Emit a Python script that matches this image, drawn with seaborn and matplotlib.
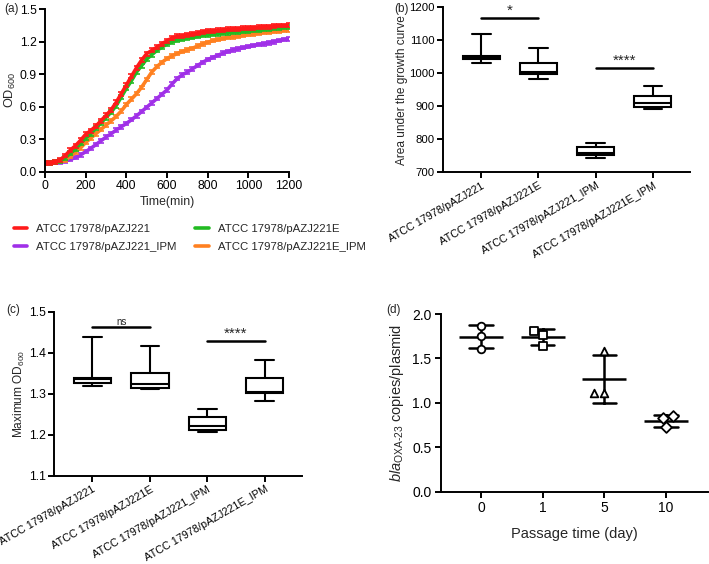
import numpy as np
import pandas as pd
import matplotlib
matplotlib.use("Agg")
import matplotlib.pyplot as plt
import seaborn as sns

# ---- panel (a): growth curves, OD600 read every 25 min ----
time_min = list(range(0, 1201, 25))
od_pazj221 = [0.080, 0.082, 0.090, 0.110, 0.150, 0.200, 0.240, 0.290, 0.345, 0.380,
              0.420, 0.470, 0.520, 0.570, 0.640, 0.720, 0.800, 0.880, 0.960, 1.030,
              1.090, 1.120, 1.150, 1.180, 1.210, 1.235, 1.250, 1.255, 1.265, 1.270,
              1.280, 1.290, 1.300, 1.300, 1.305, 1.310, 1.315, 1.320, 1.320, 1.325,
              1.330, 1.330, 1.335, 1.340, 1.340, 1.345, 1.350, 1.350, 1.355]
od_pazj221e = [0.080, 0.081, 0.087, 0.100, 0.130, 0.170, 0.210, 0.260, 0.310, 0.350,
               0.400, 0.450, 0.500, 0.550, 0.610, 0.690, 0.770, 0.840, 0.920, 0.980,
               1.040, 1.080, 1.120, 1.150, 1.180, 1.200, 1.215, 1.225, 1.235, 1.240,
               1.250, 1.260, 1.265, 1.270, 1.275, 1.280, 1.285, 1.290, 1.290, 1.295,
               1.300, 1.305, 1.310, 1.315, 1.320, 1.325, 1.330, 1.335, 1.340]
od_pazj221_ipm = [0.080, 0.080, 0.083, 0.090, 0.100, 0.115, 0.130, 0.155, 0.185, 0.215,
                  0.250, 0.285, 0.320, 0.350, 0.385, 0.415, 0.445, 0.480, 0.515, 0.555,
                  0.595, 0.635, 0.675, 0.715, 0.755, 0.810, 0.860, 0.895, 0.920, 0.950,
                  0.980, 1.010, 1.035, 1.055, 1.075, 1.095, 1.110, 1.125, 1.135, 1.145,
                  1.155, 1.165, 1.175, 1.180, 1.190, 1.200, 1.210, 1.220, 1.225]
od_pazj221e_ipm = [0.080, 0.080, 0.085, 0.095, 0.110, 0.140, 0.180, 0.220, 0.270, 0.310,
                   0.350, 0.390, 0.430, 0.470, 0.510, 0.560, 0.620, 0.670, 0.720, 0.780,
                   0.850, 0.920, 0.970, 1.010, 1.045, 1.070, 1.090, 1.110, 1.125, 1.140,
                   1.160, 1.180, 1.195, 1.210, 1.220, 1.230, 1.240, 1.245, 1.250, 1.260,
                   1.265, 1.270, 1.280, 1.285, 1.290, 1.295, 1.300, 1.305, 1.310]
od_sd = [0.018, 0.018, 0.016, 0.016]  # approx error bar half-height per strain

strains = ["ATCC 17978/pAZJ221", "ATCC 17978/pAZJ221E",
           "ATCC 17978/pAZJ221_IPM", "ATCC 17978/pAZJ221E_IPM"]
strain_colors = ["#ff1a1a", "#22bb22", "#a030e8", "#ff8020"]

# ---- panel (b): area under the growth curve (min, q1, median, q3, max) ----
auc_pazj221 = [1030, 1042, 1045, 1052, 1119]
auc_pazj221e = [983, 998, 1003, 1030, 1076]
auc_pazj221_ipm = [744, 752, 760, 778, 788]
auc_pazj221e_ipm = [893, 899, 909, 931, 961]
sig_b = [(0, 1, 1169, "*"), (2, 3, 1017, "****")]

# ---- panel (c): maximum OD600 (min, q1, median, q3, max) ----
maxod_pazj221 = [1.320, 1.327, 1.335, 1.338, 1.439]
maxod_pazj221e = [1.311, 1.314, 1.324, 1.350, 1.417]
maxod_pazj221_ipm = [1.207, 1.211, 1.222, 1.243, 1.262]
maxod_pazj221e_ipm = [1.281, 1.301, 1.305, 1.339, 1.381]
sig_c = [(0, 1, 1.463, "ns"), (2, 3, 1.428, "****")]

# ---- panel (d): blaOXA-23 copies per plasmid ----
passage_days = ["0", "1", "5", "10"]
copies_day0 = [1.869, 1.756, 1.606]
copies_day1 = [1.640, 1.764, 1.812]
copies_day5 = [1.114, 1.583, 1.114]
copies_day10 = [0.724, 0.826, 0.852]
day_markers = ["o", "s", "^", "D"]

sns.set_style("ticks")
plt.rcParams["font.family"] = ["Liberation Sans", "DejaVu Sans"]
plt.rcParams["mathtext.fontset"] = "custom"
plt.rcParams["mathtext.rm"] = "Liberation Sans"
plt.rcParams["mathtext.it"] = "Liberation Sans:italic"
plt.rcParams["axes.linewidth"] = 1.4
plt.rcParams["xtick.major.width"] = 1.4
plt.rcParams["ytick.major.width"] = 1.4
plt.rcParams["xtick.major.size"] = 4
plt.rcParams["ytick.major.size"] = 4
plt.rcParams["xtick.color"] = "black"
plt.rcParams["ytick.color"] = "black"
plt.rcParams["axes.edgecolor"] = "black"

W, H = 709, 564
fig = plt.figure(figsize=(W / 100, H / 100), dpi=100)


def px_axes(left, top, right, bottom):
    return fig.add_axes([left / W, 1 - bottom / H, (right - left) / W, (bottom - top) / H])


# ---------- (a) ----------
ax_a = px_axes(45, 9.3, 289, 171.7)
curves = [od_pazj221, od_pazj221e, od_pazj221_ipm, od_pazj221e_ipm]
draw_order = [0, 1, 3, 2]
for i in draw_order[::-1]:
    ax_a.errorbar(time_min, curves[i], yerr=od_sd[i], fmt="none",
                  ecolor=strain_colors[i], elinewidth=1.2, capsize=2.0, capthick=1.2)
    sns.lineplot(x=time_min, y=curves[i], color=strain_colors[i], lw=2.6,
                 ax=ax_a, label=strains[i])
ax_a.set_xlim(0, 1200)
ax_a.set_ylim(0, 1.5)
ax_a.set_xticks(range(0, 1201, 200))
ax_a.set_yticks([0.0, 0.3, 0.6, 0.9, 1.2, 1.5])
ax_a.set_yticklabels(["0.0", "0.3", "0.6", "0.9", "1.2", "1.5"])
ax_a.tick_params(labelsize=8.8, pad=2)
ax_a.set_xlabel("Time(min)", fontsize=8.8, labelpad=3)
ax_a.set_ylabel("OD$_{600}$", fontsize=9.2, labelpad=1)
sns.despine(ax=ax_a)
handles, labels = ax_a.get_legend_handles_labels()
lookup = dict(zip(labels, handles))
leg_order = [strains[0], strains[2], strains[1], strains[3]]
ax_a.get_legend().remove()
fig.legend([lookup[s] for s in leg_order], leg_order, loc="upper left",
           bbox_to_anchor=(8 / W, 1 - 218 / H), ncol=2, frameon=False,
           fontsize=8.2, handlelength=1.2, handletextpad=0.8,
           columnspacing=1.6, labelspacing=0.75, borderpad=0)

# ---------- boxes (b), (c) ----------
def box_panel(ax, groups, sig, ylim, yticks, ylabel, tick_size):
    df = pd.DataFrame({
        "strain": np.repeat(strains, [len(g) for g in groups]),
        "value": np.concatenate(groups),
    })
    sns.boxplot(data=df, x="strain", y="value", order=strains, whis=(0, 100),
                width=0.65, color="white", linecolor="black", linewidth=1.5,
                ax=ax)
    for a, b, y, txt in sig:
        ax.plot([a, b], [y, y], color="black", lw=1.8)
        fs = 7 if txt == "ns" else 11
        ax.text((a + b) / 2, y, txt, ha="center", va="bottom", fontsize=fs)
    ax.set_xlim(-0.67, 3.65)
    ax.set_ylim(*ylim)
    ax.set_yticks(yticks)
    ax.set_xlabel("")
    ax.set_ylabel(ylabel, fontsize=8.6, labelpad=1)
    ax.tick_params(labelsize=tick_size, pad=2)
    ax.set_xticks(range(4))
    ax.set_xticklabels(strains, rotation=30, ha="right", rotation_mode="anchor",
                       fontsize=7.8)
    sns.despine(ax=ax)


ax_b = px_axes(443, 7.3, 690, 172.3)
box_panel(ax_b, [auc_pazj221, auc_pazj221e, auc_pazj221_ipm, auc_pazj221e_ipm],
          sig_b, (700, 1200), range(700, 1201, 100), "Area under the growth curve", 8.2)

ax_c = px_axes(54, 311.7, 302, 475.7)
box_panel(ax_c, [maxod_pazj221, maxod_pazj221e, maxod_pazj221_ipm, maxod_pazj221e_ipm],
          sig_c, (1.1, 1.5), [1.1, 1.2, 1.3, 1.4, 1.5], "Maximum OD$_{600}$", 8.8)

# ---------- (d) ----------
ax_d = px_axes(441, 314, 708, 491.7)
copies = [copies_day0, copies_day1, copies_day5, copies_day10]
df_d = pd.DataFrame({
    "day": np.repeat(passage_days, [len(c) for c in copies]),
    "copies": np.concatenate(copies),
})
sns.pointplot(data=df_d, x="day", y="copies", order=passage_days, errorbar="sd",
              color="black", markers="_", markersize=32, markeredgewidth=1.8,
              linestyle="none", capsize=0.38, err_kws={"linewidth": 1.8}, ax=ax_d)
for day, mk in zip(passage_days, day_markers):
    sns.swarmplot(data=df_d[df_d["day"] == day], x="day", y="copies",
                  order=passage_days, marker=mk, size=5.5, color="white",
                  edgecolor="black", linewidth=1.3, ax=ax_d)
ax_d.set_xlim(-0.65, 3.68)
ax_d.set_ylim(0, 2.0)
ax_d.set_yticks([0.0, 0.5, 1.0, 1.5, 2.0])
ax_d.set_yticklabels(["0.0", "0.5", "1.0", "1.5", "2.0"])
ax_d.tick_params(labelsize=10, pad=3)
ax_d.set_xlabel("Passage time (day)", fontsize=10.5, labelpad=8)
ax_d.set_ylabel(r"$\it{bla}_{\rm OXA\text{-}23}$ copies/plasmid", fontsize=10.5, labelpad=4)
sns.despine(ax=ax_d)

# panel letters
for txt, x, y in [("(a)", 4, 12), ("(b)", 394, 12), ("(c)", 6, 313), ("(d)", 386, 313)]:
    fig.text(x / W, 1 - y / H, txt, fontsize=8.5, va="baseline")

fig.savefig("out.png", dpi=100)
